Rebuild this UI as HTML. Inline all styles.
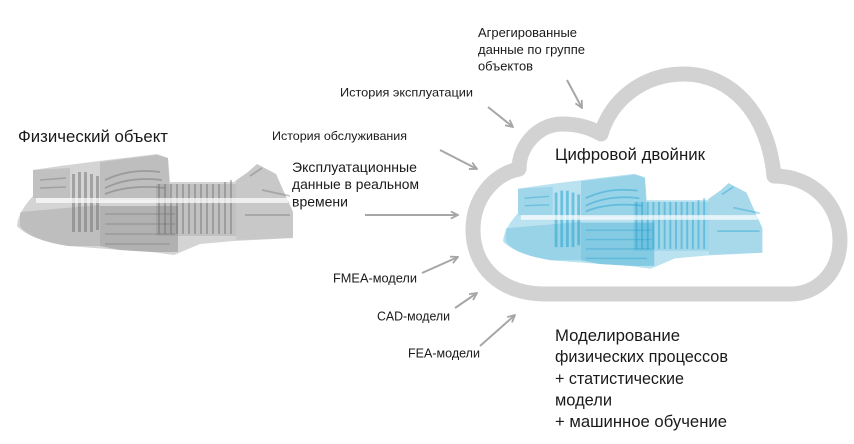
<!DOCTYPE html>
<html><head><meta charset="utf-8"><style>
html,body{margin:0;padding:0;background:#fff;}
svg{display:block;}
text{font-family:"Liberation Sans","DejaVu Sans",sans-serif;fill:#1a1a1a;}
</style></head><body>
<svg width="854" height="444" viewBox="0 0 854 444" xmlns="http://www.w3.org/2000/svg">
<defs>
<marker id="ah" viewBox="0 0 10 10" refX="9" refY="5" markerWidth="9" markerHeight="9" markerUnits="userSpaceOnUse" orient="auto">
<path d="M1,1 L9,5 L1,9" fill="none" stroke="#a6a6a6" stroke-width="2"/>
</marker>
<g id="turb">
<path d="M17 226 Q18 212 33 196 L33 170 L60 166 L107 160 L157 154 L168 158 L170 182 L234 182 L248 172 L257 164 L276 174 L284 192 L293 212 L293 238 L234 241 L200 244 L174 255 L152 252 L120 250 L68 246 Q30 240 17 226 Z" fill="currentColor" fill-opacity="0.3"/>
<path d="M33 170 L70 168 L70 198 L33 198 Z" fill="currentColor" fill-opacity="0.18"/>
<path d="M40 180 L66 178 M40 188 L66 187" stroke="currentColor" stroke-opacity="0.4" stroke-width="1.5"/>
<path d="M20 212 L100 205 L100 246 L68 246 Q30 240 20 226 Z" fill="currentColor" fill-opacity="0.22"/>
<g fill="currentColor" fill-opacity="0.5">
<rect x="72" y="174" width="3" height="58"/><rect x="78" y="172" width="3" height="60"/><rect x="84" y="172" width="3" height="60"/><rect x="90" y="174" width="3" height="58"/><rect x="96" y="176" width="3" height="54"/>
</g>
<path d="M100 162 L157 155 L168 158 L170 200 L100 200 Z" fill="currentColor" fill-opacity="0.22"/>
<path d="M105 180 Q130 168 160 172 M105 188 Q130 176 162 180 M105 194 Q130 184 165 188" stroke="currentColor" stroke-opacity="0.45" stroke-width="1.8" fill="none"/>
<path d="M100 206 L178 206 L178 252 L152 252 L120 250 L100 246 Z" fill="currentColor" fill-opacity="0.35"/>
<path d="M105 214 L175 214 M105 224 L175 224 M105 234 L175 234 M105 244 L170 244" stroke="currentColor" stroke-opacity="0.35" stroke-width="1.5"/>
<rect x="156" y="184" width="80" height="52" fill="currentColor" fill-opacity="0.18"/>
<g fill="currentColor" fill-opacity="0.45">
<rect x="158" y="184" width="2" height="50"/><rect x="164" y="184" width="2" height="50"/><rect x="170" y="184" width="2" height="50"/><rect x="176" y="184" width="2" height="50"/><rect x="182" y="184" width="2" height="50"/><rect x="188" y="184" width="2" height="50"/><rect x="194" y="184" width="2" height="50"/><rect x="200" y="184" width="2" height="50"/><rect x="206" y="184" width="2" height="50"/><rect x="212" y="184" width="2" height="50"/><rect x="218" y="184" width="2" height="50"/><rect x="224" y="182" width="2" height="52"/><rect x="230" y="180" width="2" height="54"/>
</g>
<path d="M236 180 L248 172 L257 164 L276 174 L284 192 L293 212 L293 238 L236 240 Z" fill="currentColor" fill-opacity="0.12"/>
<path d="M250 176 L262 168 M262 190 L290 196 M245 215 L290 215" stroke="currentColor" stroke-opacity="0.4" stroke-width="1.8" fill="none"/>
<rect x="36" y="198" width="252" height="5" fill="#fff" fill-opacity="0.7"/>
</g>
</defs>
<rect width="854" height="444" fill="#fff"/>

<path d="M545 294 C500 294 473 266 473 230 C473 198 494 174 519 169 C519 145 539 124 562 124 C578 124 591 128 601 134 C611 100 643 74 684 74 C730 74 768 112 774 176 C812 176 840 204 840 240 C840 272 818 294 790 294 Z" fill="#fff" stroke="#d2d2d2" stroke-width="15" stroke-linejoin="round"/>

<use href="#turb" style="color:#707070"/>
<use href="#turb" transform="translate(487,29) scale(0.94)" style="color:#1f9fcc"/>

<g stroke="#a6a6a6" stroke-width="2" fill="none" marker-end="url(#ah)">
<line x1="567" y1="80" x2="582" y2="108"/>
<line x1="488" y1="107" x2="513" y2="127"/>
<line x1="440" y1="150" x2="477" y2="169"/>
<line x1="365" y1="215" x2="458" y2="215"/>
<line x1="422" y1="273" x2="458" y2="257"/>
<line x1="455" y1="308" x2="477" y2="293"/>
<line x1="480" y1="346" x2="515" y2="315"/>
</g>

<text x="18" y="142" font-size="17" textLength="150" lengthAdjust="spacingAndGlyphs">Физический объект</text>
<text x="555" y="160" font-size="17" textLength="150" lengthAdjust="spacingAndGlyphs">Цифровой двойник</text>

<text x="478" y="37" font-size="12.5" textLength="99" lengthAdjust="spacingAndGlyphs">Агрегированные</text>
<text x="478" y="54" font-size="12.5" textLength="107" lengthAdjust="spacingAndGlyphs">данные по группе</text>
<text x="478" y="70.5" font-size="12.5" textLength="55" lengthAdjust="spacingAndGlyphs">объектов</text>

<text x="340" y="96.5" font-size="12" textLength="133" lengthAdjust="spacingAndGlyphs">История эксплуатации</text>
<text x="272" y="140" font-size="12" textLength="135" lengthAdjust="spacingAndGlyphs">История обслуживания</text>

<text x="292" y="172" font-size="14" textLength="125" lengthAdjust="spacingAndGlyphs">Эксплуатационные</text>
<text x="292" y="189" font-size="14" textLength="127" lengthAdjust="spacingAndGlyphs">данные в реальном</text>
<text x="292" y="206.5" font-size="14" textLength="56" lengthAdjust="spacingAndGlyphs">времени</text>

<text x="333" y="282.5" font-size="12.5" textLength="84" lengthAdjust="spacingAndGlyphs">FMEA-модели</text>
<text x="377" y="320.5" font-size="12.5" textLength="73" lengthAdjust="spacingAndGlyphs">CAD-модели</text>
<text x="408" y="357.5" font-size="12.5" textLength="72" lengthAdjust="spacingAndGlyphs">FEA-модели</text>

<text x="555" y="341" font-size="17" textLength="125" lengthAdjust="spacingAndGlyphs">Моделирование</text>
<text x="555" y="362" font-size="17" textLength="173" lengthAdjust="spacingAndGlyphs">физических процессов</text>
<text x="555" y="384" font-size="17" textLength="129" lengthAdjust="spacingAndGlyphs">+ статистические</text>
<text x="555" y="405.5" font-size="17" textLength="57" lengthAdjust="spacingAndGlyphs">модели</text>
<text x="555" y="427" font-size="17" textLength="172" lengthAdjust="spacingAndGlyphs">+ машинное обучение</text>
</svg>
</body></html>
